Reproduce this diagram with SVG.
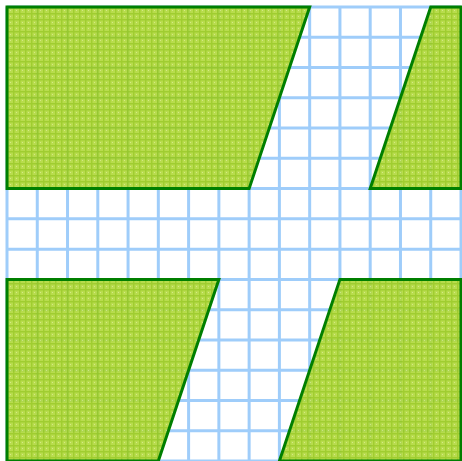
<svg xmlns="http://www.w3.org/2000/svg" width="462" height="461" viewBox="0 0 462 461">
<style>
.grid line{stroke:#9fcdfa;stroke-width:3}
.shape{fill:url(#plaid);fill-opacity:0.9;stroke:#007f00;stroke-width:3;stroke-linejoin:miter}
</style>
<defs>
<pattern id="plaid" patternUnits="userSpaceOnUse" x="7" y="7" width="6" height="6">
<rect width="6" height="6" fill="#b0d83a"/>
<rect x="0" y="0" width="6" height="1.5" fill="#96c81a"/>
<rect x="0" y="0" width="1.5" height="6" fill="#96c81a"/>
<rect x="3" y="3" width="1" height="1" fill="#cfe77a"/>
</pattern>
</defs>
<rect width="462" height="461" fill="#ffffff"/>
<g class="grid" id="grid">
<line x1="7" y1="7" x2="7" y2="461"/>
<line x1="37.27" y1="7" x2="37.27" y2="461"/>
<line x1="67.53" y1="7" x2="67.53" y2="461"/>
<line x1="97.8" y1="7" x2="97.8" y2="461"/>
<line x1="128.07" y1="7" x2="128.07" y2="461"/>
<line x1="158.33" y1="7" x2="158.33" y2="461"/>
<line x1="188.6" y1="7" x2="188.6" y2="461"/>
<line x1="218.87" y1="7" x2="218.87" y2="461"/>
<line x1="249.13" y1="7" x2="249.13" y2="461"/>
<line x1="279.4" y1="7" x2="279.4" y2="461"/>
<line x1="309.67" y1="7" x2="309.67" y2="461"/>
<line x1="339.93" y1="7" x2="339.93" y2="461"/>
<line x1="370.2" y1="7" x2="370.2" y2="461"/>
<line x1="400.47" y1="7" x2="400.47" y2="461"/>
<line x1="430.73" y1="7" x2="430.73" y2="461"/>
<line x1="461" y1="7" x2="461" y2="461"/>
<line y1="7" x1="7" y2="7" x2="461"/>
<line y1="37.27" x1="7" y2="37.27" x2="461"/>
<line y1="67.53" x1="7" y2="67.53" x2="461"/>
<line y1="97.8" x1="7" y2="97.8" x2="461"/>
<line y1="128.07" x1="7" y2="128.07" x2="461"/>
<line y1="158.33" x1="7" y2="158.33" x2="461"/>
<line y1="188.6" x1="7" y2="188.6" x2="461"/>
<line y1="218.87" x1="7" y2="218.87" x2="461"/>
<line y1="249.13" x1="7" y2="249.13" x2="461"/>
<line y1="279.4" x1="7" y2="279.4" x2="461"/>
<line y1="309.67" x1="7" y2="309.67" x2="461"/>
<line y1="339.93" x1="7" y2="339.93" x2="461"/>
<line y1="370.2" x1="7" y2="370.2" x2="461"/>
<line y1="400.47" x1="7" y2="400.47" x2="461"/>
<line y1="430.73" x1="7" y2="430.73" x2="461"/>
<line y1="461" x1="7" y2="461" x2="461"/>
</g>
<g id="top-left"><polygon class="shape" points="7,7 309.67,7 249.13,188.6 7,188.6"/></g>
<g id="top-right"><polygon class="shape" points="430.73,7 461,7 461,188.6 370.2,188.6"/></g>
<g id="bottom-left"><polygon class="shape" points="7,279.4 218.87,279.4 158.33,461 7,461"/></g>
<g id="bottom-right"><polygon class="shape" points="339.93,279.4 461,279.4 461,461 279.4,461"/></g>
</svg>
